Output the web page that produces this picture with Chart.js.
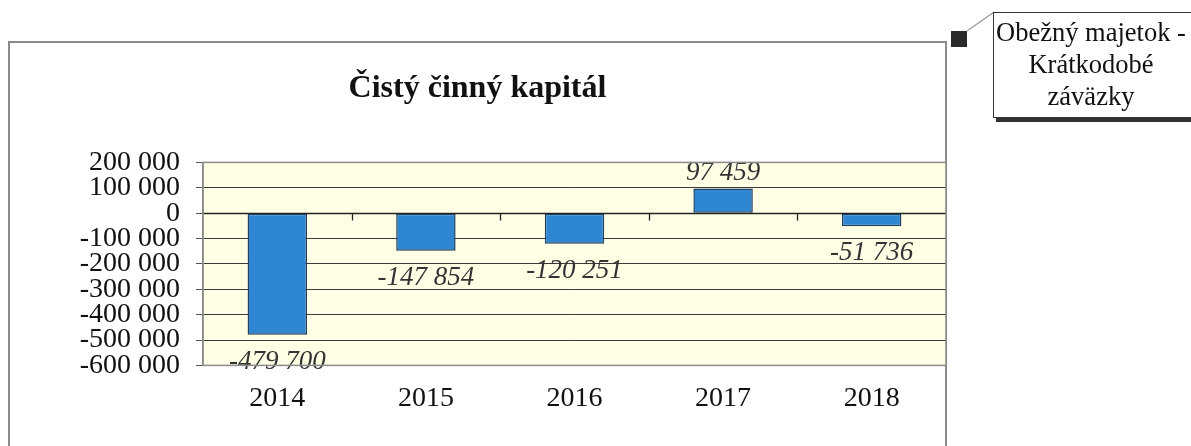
<!DOCTYPE html>
<html lang="sk">
<head>
<meta charset="utf-8">
<script src="https://cdn.jsdelivr.net/npm/chart.js@4/dist/chart.umd.min.js"></script>
<style>
    html, body { margin: 0; padding: 0; background: #fff; }
    body { width: 1191px; height: 446px; position: relative; overflow: hidden; }
    #frame {
        position: absolute; left: 8px; top: 41px; width: 939px; height: 440px;
        border: 2px solid #8a8a8a; box-sizing: border-box;
    }
    #wrap { position: absolute; left: 9px; top: 42px; width: 937px; height: 404px; }
    #marker { position: absolute; left: 951px; top: 31px; width: 16px; height: 16px; background: #2a2a2a; }
    #leader { position: absolute; left: 0; top: 0; }
    #callout {
        position: absolute; left: 993px; top: 12px; width: 210px; height: 106px;
        border: 1.5px solid #333; box-shadow: 3px 4px 0 #333; background: #fff;
        box-sizing: border-box; text-align: center;
        font: 26.5px 'Liberation Serif', 'DejaVu Serif', serif; line-height: 32px; color: #111;
        padding-top: 3px; padding-right: 14px; white-space: nowrap;
    }
</style>
</head>
<body>
<div id="frame"></div>
<div id="wrap"><canvas id="wcChart" width="937" height="404"></canvas></div>
<svg id="leader" width="1191" height="446"><line x1="967" y1="31" x2="994" y2="12" stroke="#999" stroke-width="1.2"/></svg>
<div id="marker"></div>
<div id="callout">Obežný majetok -<br>Krátkodobé<br>záväzky</div>
<script>
// ── Dáta ──────────────────────────────────────────────────
const years  = ['2014', '2015', '2016', '2017', '2018'];
const values = [-479700, -147854, -120251, 97459, -51736];
const yMin = -600000, yMax = 200000, yStep = 100000;

const SERIF = "'Liberation Serif', 'DejaVu Serif', serif";

function fmt(v) {
    const s = Math.abs(Math.round(v)).toString().replace(/\B(?=(\d{3})+(?!\d))/g, ' ');
    return (v < 0 ? '-' : '') + s;
}

// podklad plochy grafu
const plotBg = {
    id: 'plotBg',
    beforeDraw(chart) {
        const { ctx, chartArea: a } = chart;
        ctx.save();
        ctx.fillStyle = '#FFFFE6';
        ctx.fillRect(a.left, a.top, a.right - a.left, a.bottom - a.top);
        ctx.restore();
    },
    afterDraw(chart) {
        const { ctx, chartArea: a } = chart;
        ctx.save();
        ctx.strokeStyle = '#8a8a8a';
        ctx.lineWidth = 1.5;
        ctx.strokeRect(a.left, a.top, a.right - a.left, a.bottom - a.top);
        ctx.restore();
    }
};

// os x na nule s dielikmi
const zeroAxis = {
    id: 'zeroAxis',
    beforeDatasetsDraw(chart) {
        const { ctx, scales: { x, y } } = chart;
        const y0 = Math.round(y.getPixelForValue(0)) + 0.5;
        const n = years.length;
        ctx.save();
        ctx.strokeStyle = '#222';
        ctx.lineWidth = 1.3;
        ctx.beginPath();
        ctx.moveTo(x.left, y0);
        ctx.lineTo(x.right, y0);
        for (let i = 1; i < n; i++) {
            const bx = Math.round(x.left + i * (x.right - x.left) / n) + 0.5;
            ctx.moveTo(bx, y0);
            ctx.lineTo(bx, y0 + 7);
        }
        ctx.stroke();
        ctx.restore();
    }
};

// popisky hodnôt
const valueLabels = {
    id: 'valueLabels',
    afterDatasetsDraw(chart) {
        const { ctx } = chart;
        const meta = chart.getDatasetMeta(0);
        ctx.save();
        ctx.font = 'italic 27px ' + SERIF;
        ctx.fillStyle = '#333';
        ctx.textAlign = 'center';
        ctx.textBaseline = 'middle';
        meta.data.forEach((bar, i) => {
            const v = values[i];
            const ty = v < 0 ? bar.y + 27 : bar.y - 16;
            ctx.fillText(fmt(v), bar.x, ty);
        });
        ctx.restore();
    }
};

new Chart(document.getElementById('wcChart'), {
    type: 'bar',
    data: {
        labels: years,
        datasets: [{
            data: values,
            backgroundColor: '#2F86D2',
            borderColor: '#1E3F5E',
            borderWidth: 1.5,
            borderSkipped: false,
            barPercentage: 0.4,
            categoryPercentage: 1.0,
        }],
    },
    options: {
        responsive: false,
        animation: false,
        devicePixelRatio: 1,
        layout: { padding: { left: 0, right: 0, top: 0, bottom: 23 } },
        plugins: {
            legend: { display: false },
            tooltip: { enabled: false },
            title: {
                display: true,
                text: 'Čistý činný kapitál',
                color: '#111',
                font: { family: SERIF, size: 32, weight: 'bold' },
                padding: { top: 28, bottom: 54 },
            },
        },
        scales: {
            x: {
                grid: { display: false },
                border: { display: false },
                ticks: {
                    color: '#111',
                    font: { family: SERIF, size: 28 },
                    padding: 8,
                },
            },
            y: {
                min: yMin,
                max: yMax,
                afterFit: scale => { scale.width = 194; },
                grid: {
                    color: '#3a3a3a',
                    lineWidth: 1,
                    tickLength: 7,
                    tickColor: '#555',
                },
                border: { display: true, color: '#8a8a8a', width: 1.5 },
                ticks: {
                    stepSize: yStep,
                    autoSkip: false,
                    color: '#111',
                    font: { family: SERIF, size: 28 },
                    padding: 16,
                    callback: v => fmt(v),
                },
            },
        },
    },
    plugins: [plotBg, zeroAxis, valueLabels],
});
</script>
</body>
</html>
